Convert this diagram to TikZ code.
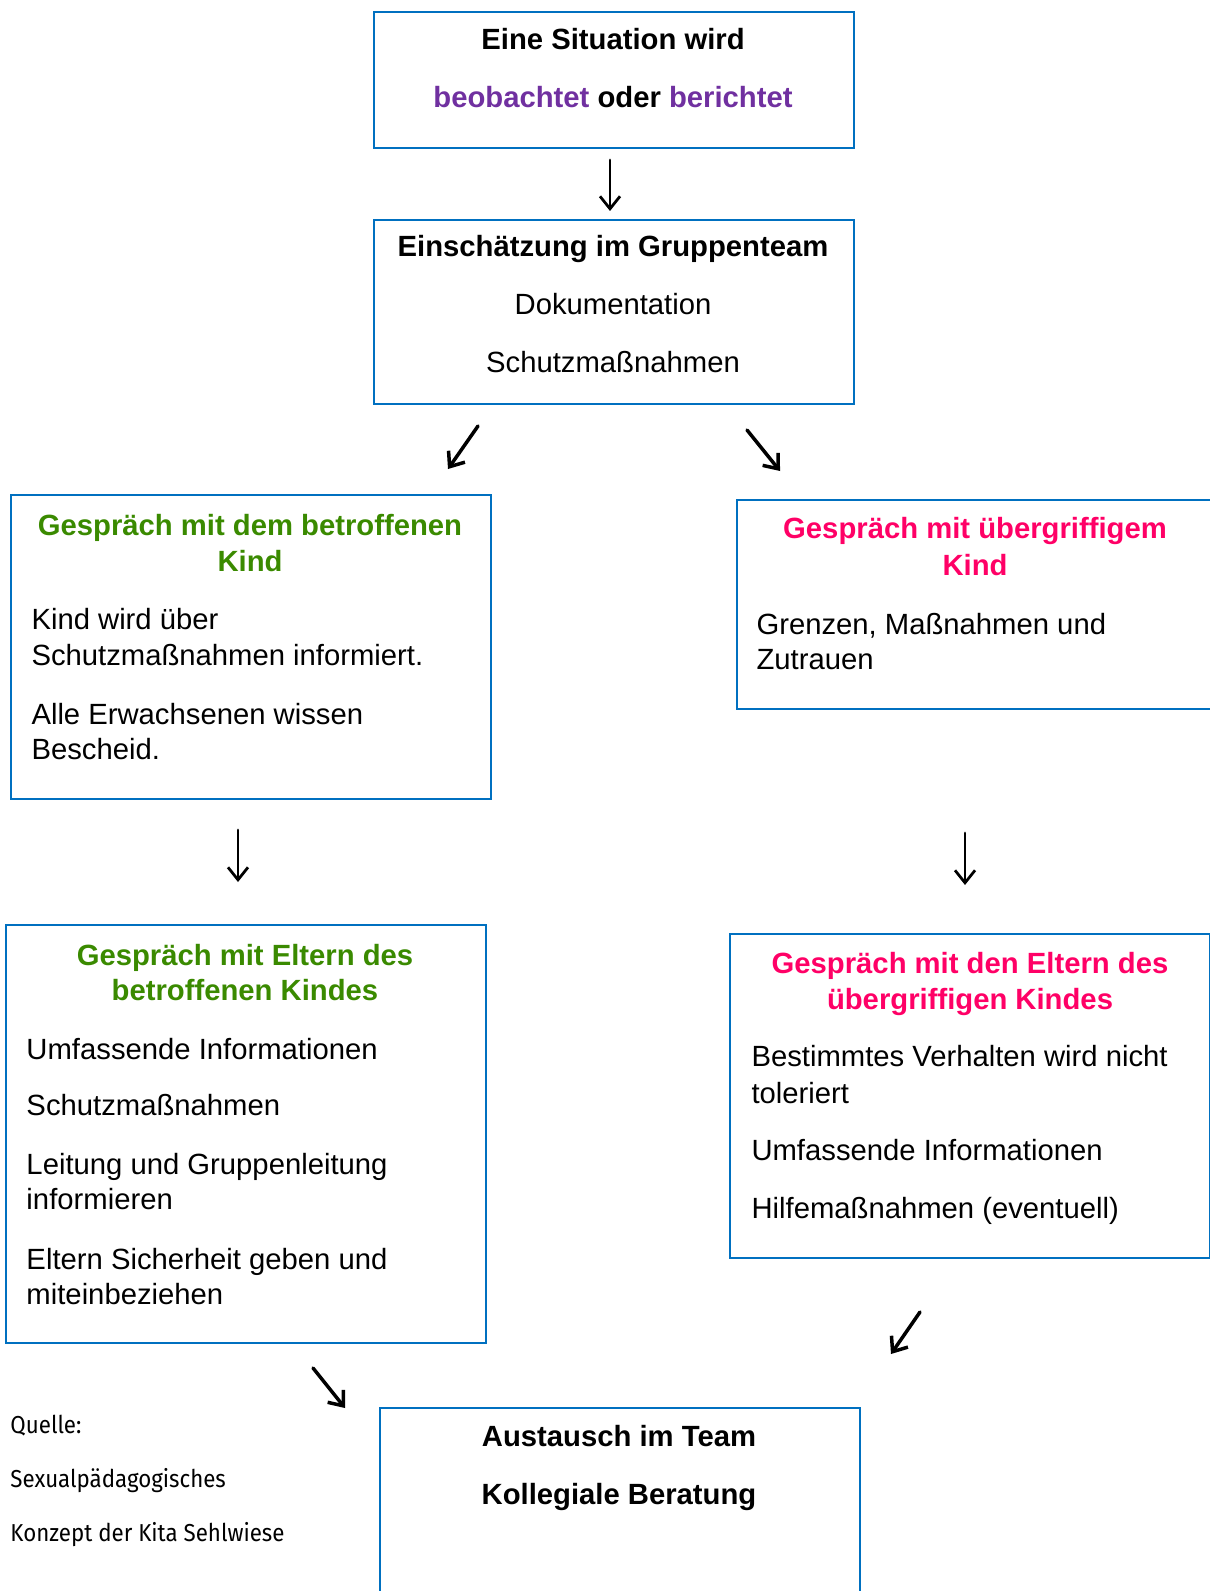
\documentclass[tikz,border=0pt]{standalone}
\usepackage{fontspec}
\setmainfont{Liberation Sans}
\newfontfamily\quellefont[FakeStretch=0.91]{Fira Sans}
\usetikzlibrary{arrows.meta}
\definecolor{rahmenblau}{HTML}{0070C0}
\definecolor{lila}{HTML}{7030A0}
\definecolor{gruen}{HTML}{3A8A00}
\definecolor{rosa}{HTML}{FF0066}
\tikzset{
 rahmen/.style={draw=rahmenblau,line width=0.8pt,anchor=north west,inner sep=0pt},
 txt/.style={inner sep=0pt,yshift=-0.8pt,font=\fontsize{11.7}{14.2}\selectfont},
 kopf/.style={inner sep=0pt,yshift=-0.8pt,font=\fontsize{11.7}{14.2}\selectfont\bfseries},
 quelle/.style={inner sep=0pt,anchor=base west,font=\quellefont\fontsize{9.8}{12}\selectfont},
 pfeil/.style={-{Straight Barb[length=5pt,width=8pt]},line width=1.1pt,line cap=round},
 dpfeil/.style={pfeil,line width=1.4pt}
}
\begin{document}
\begin{tikzpicture}[x=0.4pt,y=-0.4pt]
 \useasboundingbox (0,0) rectangle (1209,1591);
 % Rahmen
 \node[rahmen,minimum width=192pt,minimum height=54.4pt] (b1) at (373,11) {};
 \node[rahmen,minimum width=192pt,minimum height=73.6pt] (b2) at (373,219) {};
 \node[rahmen,minimum width=192pt,minimum height=121.6pt] (b3) at (10,494) {};
 \node[rahmen,minimum width=192pt,minimum height=83.6pt] (b4) at (736,499) {};
 \node[rahmen,minimum width=192pt,minimum height=167.2pt] (b5) at (5,924) {};
 \node[rahmen,minimum width=192pt,minimum height=129.6pt] (b6) at (729,933) {};
 \node[rahmen,minimum width=192pt,minimum height=90pt] (b7) at (379,1407) {};
 % Situation
 \node[kopf,anchor=base] (s1) at (613,48) {Eine Situation wird};
 \node[kopf,anchor=base] (s2) at (613,106) {\textcolor{lila}{beobachtet} oder \textcolor{lila}{berichtet}};
 % Einschaetzung
 \node[kopf,anchor=base] (e1) at (613,255) {Einschätzung im Gruppenteam};
 \node[txt,anchor=base] (e2) at (613,313) {Dokumentation};
 \node[txt,anchor=base] (e3) at (613,371) {Schutzmaßnahmen};
 % betroffenes Kind
 \node[kopf,anchor=base,text=gruen] (k1) at (250,533) {Gespräch mit dem betroffenen};
 \node[kopf,anchor=base,text=gruen] (k2) at (250,569) {Kind};
 \node[txt,anchor=base west] (k3) at (31,627) {Kind wird über};
 \node[txt,anchor=base west] (k4) at (31,663) {Schutzmaßnahmen informiert.};
 \node[txt,anchor=base west] (k5) at (31,722) {Alle Erwachsenen wissen};
 \node[txt,anchor=base west] (k6) at (31,757) {Bescheid.};
 % uebergriffiges Kind
 \node[kopf,anchor=base,text=rosa] (u1) at (975,536) {Gespräch mit übergriffigem};
 \node[kopf,anchor=base,text=rosa] (u2) at (975,573) {Kind};
 \node[txt,anchor=base west] (u3) at (756,632) {Grenzen, Maßnahmen und};
 \node[txt,anchor=base west] (u4) at (756,667) {Zutrauen};
 % Eltern des betroffenen Kindes
 \node[kopf,anchor=base,text=gruen] (p1) at (245,963) {Gespräch mit Eltern des};
 \node[kopf,anchor=base,text=gruen] (p2) at (245,998) {betroffenen Kindes};
 \node[txt,anchor=base west] (p3) at (26,1057) {Umfassende Informationen};
 \node[txt,anchor=base west] (p4) at (26,1113) {Schutzmaßnahmen};
 \node[txt,anchor=base west] (p5) at (26,1172) {Leitung und Gruppenleitung};
 \node[txt,anchor=base west] (p6) at (26,1207) {informieren};
 \node[txt,anchor=base west] (p7) at (26,1267) {Eltern Sicherheit geben und};
 \node[txt,anchor=base west] (p8) at (26,1302) {miteinbeziehen};
 % Eltern des uebergriffigen Kindes
 \node[kopf,anchor=base,text=rosa] (q1) at (970,971) {Gespräch mit den Eltern des};
 \node[kopf,anchor=base,text=rosa] (q2) at (970,1007) {übergriffigen Kindes};
 \node[txt,anchor=base west] (q3) at (751,1064) {Bestimmtes Verhalten wird nicht};
 \node[txt,anchor=base west] (q4) at (751,1101) {toleriert};
 \node[txt,anchor=base west] (q5) at (751,1158) {Umfassende Informationen};
 \node[txt,anchor=base west] (q6) at (751,1216) {Hilfemaßnahmen (eventuell)};
 % Austausch
 \node[kopf,anchor=base] (a1) at (619,1444) {Austausch im Team};
 \node[kopf,anchor=base] (a2) at (619,1502) {Kollegiale Beratung};
 % Quelle
 \node[quelle] (z1) at (10,1433) {Quelle:};
 \node[quelle] (z2) at (10,1487) {Sexualpädagogisches};
 \node[quelle] (z3) at (10,1541) {Konzept der Kita Sehlwiese};
 % Pfeile
 \coordinate (p1s) at (610,160); \coordinate (p1e) at (610,211);
 \coordinate (p2s) at (478,426); \coordinate (p2e) at (448,469);
 \coordinate (p3s) at (747,430); \coordinate (p3e) at (780,471);
 \coordinate (p4s) at (238,830); \coordinate (p4e) at (238,882);
 \coordinate (p5s) at (965,833); \coordinate (p5e) at (965,885);
 \coordinate (p6s) at (313,1368); \coordinate (p6e) at (345,1408);
 \coordinate (p7s) at (920,1312); \coordinate (p7e) at (891,1354);
 \draw[pfeil] (p1s) -- (p1e);
 \draw[dpfeil] (p2s) -- (p2e);
 \draw[dpfeil] (p3s) -- (p3e);
 \draw[pfeil] (p4s) -- (p4e);
 \draw[pfeil] (p5s) -- (p5e);
 \draw[dpfeil] (p6s) -- (p6e);
 \draw[dpfeil] (p7s) -- (p7e);
\end{tikzpicture}
\end{document}
